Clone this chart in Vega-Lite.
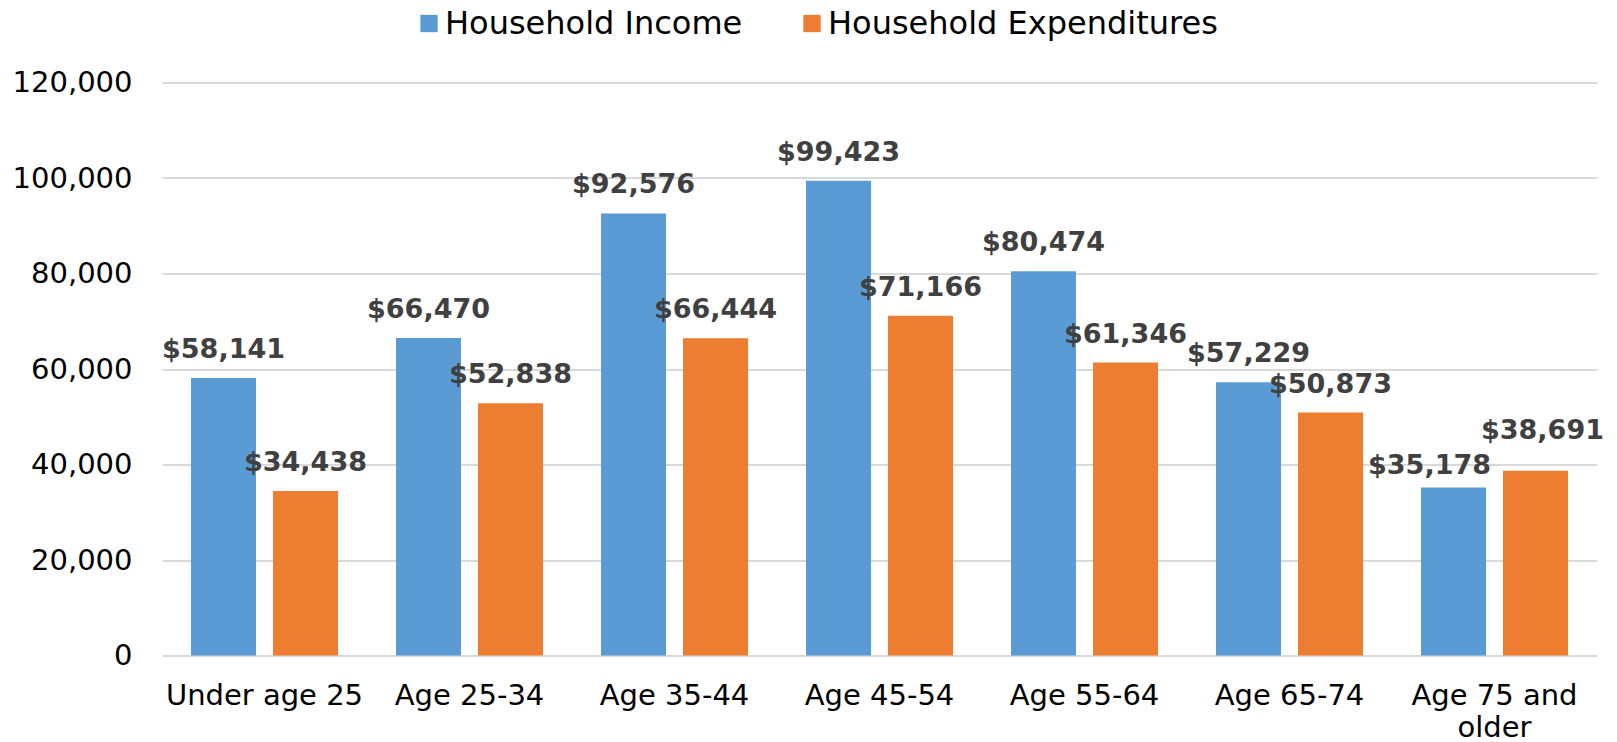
{
  "$schema": "https://vega.github.io/schema/vega-lite/v6.json",
  "autosize": {"type": "none"},
  "width": 1435,
  "height": 573,
  "padding": {"left": 162, "top": 82.5, "right": 20, "bottom": 86.5},
  "background": "white",
  "config": {
    "view": {"stroke": null},
    "font": "DejaVu Sans"
  },
  "data": {
    "values": [
      {"age": "Under age 25", "series": "Household Income", "value": 58141},
      {"age": "Under age 25", "series": "Household Expenditures", "value": 34438},
      {"age": "Age 25-34", "series": "Household Income", "value": 66470},
      {"age": "Age 25-34", "series": "Household Expenditures", "value": 52838},
      {"age": "Age 35-44", "series": "Household Income", "value": 92576},
      {"age": "Age 35-44", "series": "Household Expenditures", "value": 66444},
      {"age": "Age 45-54", "series": "Household Income", "value": 99423},
      {"age": "Age 45-54", "series": "Household Expenditures", "value": 71166},
      {"age": "Age 55-64", "series": "Household Income", "value": 80474},
      {"age": "Age 55-64", "series": "Household Expenditures", "value": 61346},
      {"age": "Age 65-74", "series": "Household Income", "value": 57229},
      {"age": "Age 65-74", "series": "Household Expenditures", "value": 50873},
      {"age": "Age 75 and older", "series": "Household Income", "value": 35178},
      {"age": "Age 75 and older", "series": "Household Expenditures", "value": 38691}
    ]
  },
  "encoding": {
    "x": {
      "field": "age",
      "type": "nominal",
      "sort": null,
      "scale": {"paddingInner": 0.283, "paddingOuter": 0.1415},
      "axis": {
        "title": null,
        "labelAngle": 0,
        "labelFont": "DejaVu Sans",
        "labelFontSize": 29,
        "labelColor": "#000000",
        "labelPadding": 26,
        "labelLineHeight": 32,
        "labelLimit": 0,
        "ticks": false,
        "domain": false,
        "labelExpr": "datum.value == 'Age 75 and older' ? ['Age 75 and', 'older'] : datum.value"
      }
    },
    "xOffset": {
      "field": "series",
      "type": "nominal",
      "sort": ["Household Income", "Household Expenditures"],
      "scale": {"paddingInner": 0.207, "paddingOuter": 0}
    },
    "y": {
      "field": "value",
      "type": "quantitative",
      "scale": {"domain": [0, 120000], "nice": false},
      "axis": {
        "title": null,
        "values": [0, 20000, 40000, 60000, 80000, 100000, 120000],
        "format": ",d",
        "labelFont": "DejaVu Sans",
        "labelFontSize": 29,
        "labelColor": "#000000",
        "labelPadding": 30,
        "ticks": false,
        "domain": false,
        "gridColor": "#d9d9d9",
        "gridWidth": 2
      }
    }
  },
  "layer": [
    {
      "mark": {"type": "bar"},
      "encoding": {
        "color": {
          "field": "series",
          "type": "nominal",
          "sort": ["Household Income", "Household Expenditures"],
          "scale": {"domain": ["Household Income", "Household Expenditures"], "range": ["#5B9BD5", "#ED7D31"]},
          "legend": {
            "title": null,
            "orient": "none",
            "direction": "horizontal",
            "legendX": 251,
            "legendY": -75,
            "symbolType": "square",
            "symbolSize": 300,
            "symbolStrokeWidth": 0,
            "labelFont": "DejaVu Sans",
            "labelFontSize": 32,
            "labelColor": "#000000",
            "labelOffset": 0,
            "columnPadding": 53,
            "labelLimit": 0
          }
        }
      }
    },
    {
      "transform": [{"filter": "datum.age != 'Age 75 and older'"}],
      "mark": {"type": "text", "baseline": "alphabetic", "dy": -20, "font": "DejaVu Sans", "fontWeight": "bold", "fontSize": 27, "color": "#404040"},
      "encoding": {"text": {"field": "value", "type": "quantitative", "format": "$,.0f"}}
    },
    {
      "transform": [{"filter": "datum.age == 'Age 75 and older' && datum.series == 'Household Income'"}],
      "mark": {"type": "text", "baseline": "alphabetic", "dy": -14, "dx": -24, "font": "DejaVu Sans", "fontWeight": "bold", "fontSize": 27, "color": "#404040"},
      "encoding": {"text": {"field": "value", "type": "quantitative", "format": "$,.0f"}}
    },
    {
      "transform": [{"filter": "datum.age == 'Age 75 and older' && datum.series == 'Household Expenditures'"}],
      "mark": {"type": "text", "baseline": "alphabetic", "dy": -32, "dx": 7, "font": "DejaVu Sans", "fontWeight": "bold", "fontSize": 27, "color": "#404040"},
      "encoding": {"text": {"field": "value", "type": "quantitative", "format": "$,.0f"}}
    }
  ]
}
